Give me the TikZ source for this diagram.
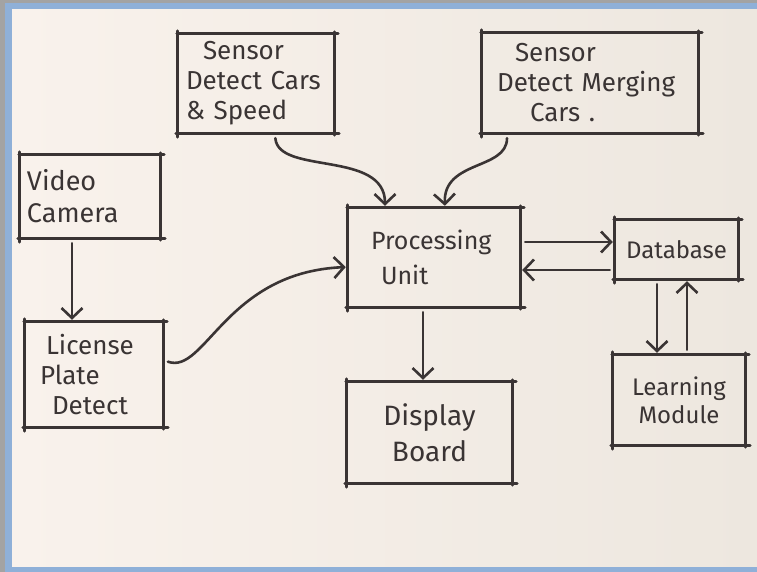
\documentclass[tikz,border=0pt]{standalone}
\usepackage{fontspec}
\setmainfont{Fira Sans}
\usetikzlibrary{arrows.meta}
\definecolor{ink}{HTML}{3A3434}
\definecolor{paperL}{HTML}{F9F2EC}
\definecolor{paperR}{HTML}{EDE7DF}
\definecolor{framecol}{HTML}{8FB0D8}
\definecolor{outercol}{HTML}{A3A3A3}
\tikzset{
  box/.style={draw=none, inner sep=0pt, text=ink, font=\fontsize{26}{30}\selectfont},
  sk/.style={draw=ink, line width=2.8pt, line cap=round},
  arr/.style={draw=ink, line width=2.6pt, line cap=round,
    -{Straight Barb[length=10pt,width=21pt,line width=2.6pt]},
    shorten <=5pt, shorten >=2pt},
}
\newcommand\skbox[1]{%
  \draw[sk] ([xshift=-1pt]#1.north west) -- ([xshift=4pt]#1.north east);
  \draw[sk] ([yshift=3pt]#1.north west) -- ([yshift=-4pt]#1.south west);
  \draw[sk] ([yshift=2pt]#1.north east) -- ([yshift=-2pt]#1.south east);
  \draw[sk] ([xshift=-2pt]#1.south west) -- ([xshift=5pt]#1.south east);
}
\begin{document}
\begin{tikzpicture}[x=1pt,y=-1pt]
\useasboundingbox (0,0) rectangle (757,572);
\fill[outercol] (0,0) rectangle (757,572);
\fill[framecol] (5,3) rectangle (757,572);
\shade[left color=paperL, right color=paperR] (12,10) rectangle (757,566);

\node[box, minimum width=156, minimum height=99, text width=140, align=left] (s1) at (256,83.5)
  {\hspace{17pt}Sensor\\Detect Cars\\\& Speed};
\node[box, minimum width=216, minimum height=100, text width=186, align=left] (s2) at (590,83)
  {\hspace{18pt}Sensor\\Detect Merging\\\hspace{33pt}Cars .};
\node[box, minimum width=140, minimum height=83, text width=126, align=left,
  font=\fontsize{27}{32}\selectfont] (vc) at (90,196.5)
  {Video\\Camera};
\node[box, minimum width=138, minimum height=105, text width=108, align=left] (lp) at (94,374.5)
  {\hspace{6pt}License\\Plate\\\hspace{12pt}Detect};
\node[box, minimum width=172, minimum height=99, text width=126, align=left,
  font=\fontsize{25}{35}\selectfont] (pu) at (434,257.5)
  {Processing\\\hspace{10pt}Unit};
\node[box, minimum width=123, minimum height=59, font=\fontsize{24}{28}\selectfont] (db) at (676.5,249.5)
  {Database};
\node[box, minimum width=132, minimum height=90, align=center, font=\fontsize{24}{28}\selectfont] (lm) at (679,400)
  {Learning\\Module};
\node[box, minimum width=165, minimum height=101, align=center, font=\fontsize{28}{36}\selectfont] (dsp) at (429.5,432.5)
  {Display\\Board};

\skbox{s1}
\skbox{s2}
\skbox{vc}
\skbox{lp}
\skbox{pu}
\skbox{db}
\skbox{lm}
\skbox{dsp}

\draw[arr] ([xshift=19pt]s1.south) .. controls +(3,42) and +(0,-58) .. ([xshift=-49pt]pu.north);
\draw[arr] ([xshift=-83pt]s2.south) .. controls +(0,37) and +(-2,-48) .. ([xshift=11pt]pu.north);
\draw[arr] ([xshift=-18pt]vc.south) -- ([xshift=-22pt]lp.north);
\draw[arr] ([yshift=14.5pt]lp.east) .. controls +(42,15) and +(-122,5) .. ([yshift=-9.5pt]pu.west);
\draw[arr] ([yshift=15.5pt]pu.east) -- ([yshift=7.5pt]db.west);
\draw[arr] ([yshift=-20.5pt]db.west) -- ([yshift=-12.5pt]pu.east);
\draw[arr] ([xshift=-11pt]pu.south) -- ([xshift=-6.5pt]dsp.north);
\draw[arr] ([xshift=-19.5pt]db.south) -- ([xshift=-22pt]lm.north);
\draw[arr] ([xshift=8pt]lm.north) -- ([xshift=10.5pt]db.south);
\end{tikzpicture}
\end{document}
